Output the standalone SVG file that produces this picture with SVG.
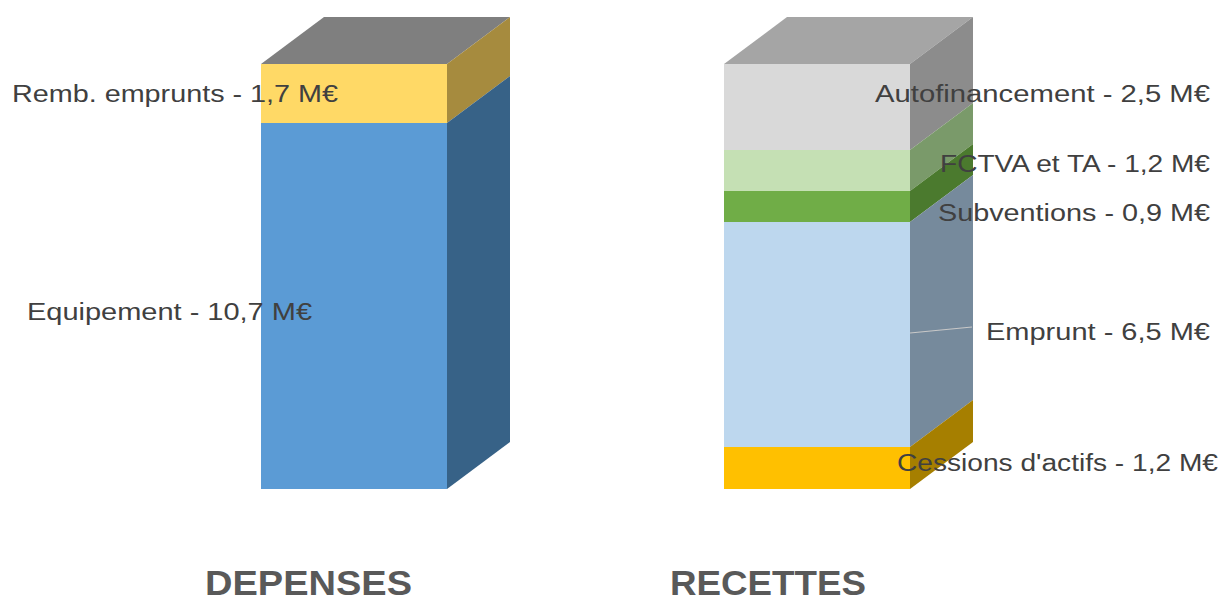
<svg xmlns="http://www.w3.org/2000/svg" width="1220" height="604" viewBox="0 0 1220 604">
<style>
.lbl{font-family:"Liberation Sans",Arial,sans-serif;font-size:23px;fill:#404040}
.ttl{font-family:"Liberation Sans",Arial,sans-serif;font-size:35px;font-weight:bold;fill:#595959}
</style>
<rect width="1220" height="604" fill="#ffffff"/>
<g id="depenses">
  <polygon points="261,64 324,17 510,17 447,64" fill="#7f7f7f"/>
  <rect x="261" y="64" width="186" height="59" fill="#ffd966"/>
  <polygon points="447,64 510,17 510,76 447,123" fill="#a68b3e"/>
  <rect x="261" y="123" width="186" height="366" fill="#5b9bd5"/>
  <polygon points="447,123 510,76 510,442 447,489" fill="#376287"/>
</g>
<g id="recettes">
  <polygon points="724,64 787,17 973,17 910,64" fill="#a5a5a5"/>
  <rect x="724" y="64" width="186" height="86" fill="#d9d9d9"/>
  <polygon points="910,64 973,17 973,103 910,150" fill="#8c8c8c"/>
  <rect x="724" y="150" width="186" height="41" fill="#c5e0b4"/>
  <polygon points="910,150 973,103 973,144 910,191" fill="#7a9a6a"/>
  <rect x="724" y="191" width="186" height="31" fill="#70ad47"/>
  <polygon points="910,191 973,144 973,175 910,222" fill="#4b7a2e"/>
  <rect x="724" y="222" width="186" height="225" fill="#bdd7ee"/>
  <polygon points="910,222 973,175 973,400 910,447" fill="#768a9c"/>
  <rect x="724" y="447" width="186" height="42" fill="#ffc000"/>
  <polygon points="910,447 973,400 973,442 910,489" fill="#a67f00"/>
</g>
<g id="connectors">
  <line x1="910" y1="333" x2="972" y2="327" stroke="#c8c8c8" stroke-width="1.2"/>
</g>
<g id="labels">
  <text class="lbl" x="12" y="102" textLength="326" lengthAdjust="spacingAndGlyphs">Remb. emprunts - 1,7 M€</text>
  <text class="lbl" x="27" y="320" textLength="285" lengthAdjust="spacingAndGlyphs">Equipement - 10,7 M€</text>
  <text class="lbl" x="875" y="102" textLength="335" lengthAdjust="spacingAndGlyphs">Autofinancement - 2,5 M€</text>
  <text class="lbl" x="940" y="172" textLength="270" lengthAdjust="spacingAndGlyphs">FCTVA et TA - 1,2 M€</text>
  <text class="lbl" x="938" y="221" textLength="272" lengthAdjust="spacingAndGlyphs">Subventions - 0,9 M€</text>
  <text class="lbl" x="986" y="340" textLength="224" lengthAdjust="spacingAndGlyphs">Emprunt - 6,5 M€</text>
  <text class="lbl" x="897" y="471" textLength="321" lengthAdjust="spacingAndGlyphs">Cessions d'actifs - 1,2 M€</text>
</g>
<g id="titles">
  <text class="ttl" x="205" y="595" textLength="207" lengthAdjust="spacingAndGlyphs">DEPENSES</text>
  <text class="ttl" x="670" y="595" textLength="196" lengthAdjust="spacingAndGlyphs">RECETTES</text>
</g>
</svg>
